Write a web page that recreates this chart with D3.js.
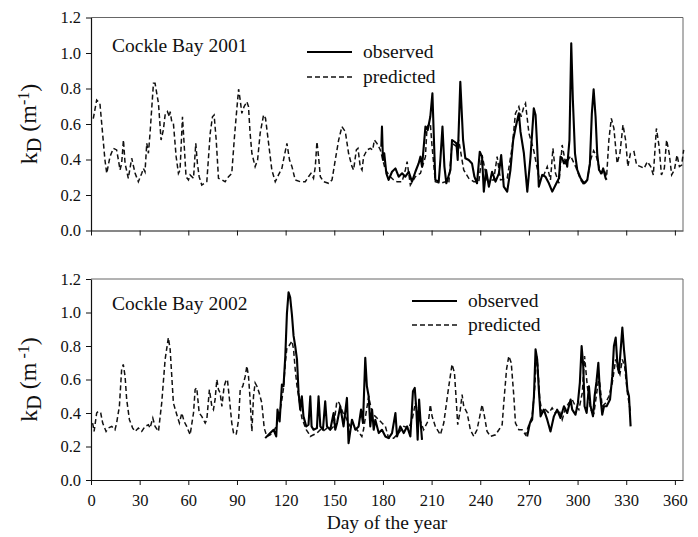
<!DOCTYPE html>
<html><head><meta charset="utf-8">
<script src="https://cdn.jsdelivr.net/npm/d3@7"></script>
<style>body{margin:0;background:#fff}svg{display:block}text{font-family:"Liberation Serif","Times New Roman",serif;fill:#111}</style>
</head><body><svg id="c" width="698" height="537"></svg>
<script>
const xTicks = [0,30,60,90,120,150,180,210,240,270,300,330,360];
const yTicks = [0,0.2,0.4,0.6,0.8,1.0,1.2];
const panelTitles = ["Cockle Bay 2001","Cockle Bay 2002"];
const legendLabels = ["observed","predicted"];

const pred2001 = [[1.4,0.63],[3.5,0.735],[5.5,0.716],[8.6,0.397],[9.7,0.322],[11.7,0.416],[13.8,0.463],[15.8,0.454],[16.9,0.397],[17.9,0.341],[18.9,0.378],[20,0.51],[21,0.378],[23,0.294],[25.1,0.407],[27.2,0.322],[29.2,0.275],[31.3,0.322],[32.3,0.35],[33.3,0.331],[34.4,0.491],[35.4,0.435],[36.4,0.548],[38.5,0.829],[39.5,0.829],[41.6,0.716],[43.2,0.51],[44.6,0.566],[45.7,0.651],[47.1,0.67],[48.4,0.641],[48.8,0.67],[49.8,0.613],[50.8,0.604],[52.5,0.416],[53.9,0.322],[54.9,0.341],[56.4,0.641],[57.4,0.491],[58.6,0.303],[60.1,0.285],[61.1,0.313],[63.2,0.294],[64.6,0.491],[65.6,0.378],[66.7,0.303],[68.3,0.256],[71.4,0.275],[73.5,0.548],[74.9,0.641],[75.9,0.651],[77.2,0.51],[78.6,0.294],[80.7,0.285],[82.7,0.275],[84.8,0.303],[86.8,0.322],[88.3,0.51],[89.5,0.641],[91,0.796],[92,0.735],[93,0.66],[94.4,0.698],[96.1,0.726],[97.1,0.698],[98.1,0.548],[99.2,0.435],[101.2,0.36],[102.7,0.397],[104.3,0.548],[106.4,0.651],[107.6,0.632],[109.5,0.491],[111.5,0.341],[113.6,0.275],[115.6,0.313],[117.7,0.35],[119.1,0.416],[120.8,0.491],[122.4,0.397],[123.9,0.36],[125.9,0.285],[129,0.275],[132.1,0.275],[134.1,0.303],[135.6,0.322],[137.2,0.294],[138.3,0.36],[139.3,0.5],[140.3,0.416],[141.4,0.303],[143.4,0.275],[146.5,0.266],[148.6,0.285],[150.6,0.397],[152.7,0.51],[154.7,0.585],[156.8,0.557],[158.8,0.435],[160.9,0.36],[161.9,0.341],[163.6,0.454],[164.6,0.463],[166,0.36],[167.1,0.341],[168.1,0.416],[170.2,0.454],[172.2,0.463],[173.7,0.454],[174.7,0.51],[176.3,0.491],[178.4,0.454],[181.5,0.341],[184.6,0.303],[186.6,0.285],[188.7,0.275],[191.8,0.275],[193.8,0.341],[194.9,0.388],[196.9,0.256],[200,0.303],[203.1,0.322],[206.2,0.416],[207.2,0.585],[209.2,0.604],[210.3,0.472],[212.3,0.275],[215.4,0.266],[218.5,0.275],[220.6,0.266],[222.6,0.491],[225.7,0.472],[226.7,0.51],[229.8,0.341],[232.9,0.294],[236,0.275],[239.1,0.275],[241.1,0.425],[244.2,0.285],[248.3,0.285],[250.4,0.416],[252.5,0.285],[256.6,0.294],[259.7,0.472],[261.7,0.66],[263.8,0.698],[265.2,0.641],[266.9,0.698],[267.9,0.716],[270,0.548],[273,0.45],[276.1,0.303],[279.2,0.313],[281.3,0.36],[283.3,0.285],[284.8,0.463],[286.4,0.322],[288.5,0.266],[290.5,0.482],[292.6,0.378],[293.6,0.388],[295.7,0.42],[298.8,0.36],[301.9,0.285],[304,0.256],[306,0.285],[308,0.397],[309.9,0.45],[311.5,0.42],[313.2,0.36],[314.2,0.322],[316.3,0.341],[317.9,0.303],[319.3,0.51],[320.8,0.632],[322.4,0.575],[324.4,0.378],[326.1,0.435],[328,0.595],[329.6,0.51],[331,0.36],[332.6,0.435],[334.8,0.444],[336.4,0.369],[338.9,0.36],[341,0.35],[343,0.388],[345.1,0.36],[346.7,0.313],[348.6,0.575],[350.3,0.472],[351.7,0.313],[353.5,0.35],[354.9,0.51],[356.5,0.435],[358,0.313],[359.7,0.341],[361.3,0.425],[362.8,0.36],[364.2,0.369],[365.4,0.454]];

const obs2001 = [[179,0.472],[179.4,0.585],[180,0.397],[180.8,0.435],[182.1,0.322],[183.5,0.285],[185.6,0.331],[187.7,0.35],[189.7,0.303],[191.8,0.322],[193.8,0.303],[195.9,0.331],[197.9,0.275],[200,0.331],[202,0.378],[203.1,0.416],[204.1,0.36],[206.2,0.585],[207.6,0.566],[209.2,0.641],[210.5,0.773],[211.3,0.548],[212.3,0.285],[214.4,0.275],[215.4,0.397],[216.7,0.585],[217.9,0.36],[219.1,0.266],[221.6,0.341],[222.6,0.51],[224.1,0.5],[225.3,0.491],[226.1,0.397],[227.7,0.838],[229.4,0.51],[230.8,0.407],[232.9,0.397],[234.9,0.378],[236.4,0.303],[238,0.266],[239.7,0.444],[241.1,0.416],[242.2,0.219],[243.6,0.341],[245.3,0.247],[247.3,0.331],[249.4,0.275],[251.5,0.322],[252.9,0.425],[254.5,0.247],[256.6,0.219],[258.6,0.341],[260.3,0.51],[261.9,0.585],[263.8,0.66],[264.8,0.557],[266.9,0.435],[269,0.219],[271,0.416],[273,0.688],[274.1,0.651],[275.1,0.472],[276.1,0.247],[278.2,0.313],[280.2,0.303],[282.3,0.266],[284.4,0.219],[286.4,0.256],[288.5,0.294],[289.5,0.416],[290.5,0.407],[291.6,0.378],[293,0.397],[293.6,0.36],[295,0.51],[296.1,1.055],[297.1,0.735],[298.4,0.435],[299.8,0.341],[301.9,0.294],[304,0.266],[306,0.285],[307.6,0.378],[308.8,0.66],[309.9,0.796],[311.1,0.641],[312.1,0.435],[313.2,0.341],[314.8,0.322],[315.8,0.35],[317.3,0.294],[317.9,0.285]];

const pred2002 = [[1,0.34],[1.9,0.29],[3.5,0.40],[4.5,0.41],[6,0.40],[7.2,0.34],[9.3,0.29],[10.7,0.31],[12.8,0.32],[14.8,0.30],[15.8,0.34],[17.5,0.44],[18.9,0.66],[19.9,0.69],[21,0.62],[22,0.48],[23.7,0.36],[25.7,0.31],[27.2,0.29],[29.2,0.31],[31.3,0.29],[33.3,0.32],[35.4,0.33],[36.4,0.31],[38.1,0.37],[39.5,0.32],[41.6,0.29],[43.6,0.46],[45.7,0.72],[47.7,0.85],[48.8,0.78],[50.8,0.46],[52.9,0.39],[54.5,0.34],[56,0.40],[57.4,0.35],[59,0.32],[61.1,0.27],[63.2,0.40],[64.2,0.54],[65.2,0.55],[66.7,0.40],[68.3,0.38],[70.4,0.34],[71.4,0.36],[73,0.54],[74.5,0.44],[75.5,0.42],[76.5,0.48],[77.6,0.60],[78.6,0.54],[79.6,0.52],[80.7,0.44],[82.1,0.56],[83.1,0.59],[84.1,0.60],[85.4,0.48],[86.8,0.34],[87.9,0.28],[89.5,0.27],[91,0.36],[92,0.54],[93.6,0.56],[95.1,0.62],[96.1,0.68],[97.1,0.62],[98.1,0.48],[99.2,0.29],[100.2,0.50],[101.2,0.58],[102.3,0.56],[103.7,0.52],[105.3,0.46],[106.8,0.31],[108.4,0.26],[110.5,0.27],[112.6,0.29],[114.2,0.32],[116.3,0.40],[117.7,0.48],[118.7,0.55],[119.8,0.70],[120.8,0.79],[122,0.80],[123.9,0.83],[124.9,0.78],[125.9,0.66],[127,0.56],[128,0.50],[130,0.37],[132.7,0.30],[134.1,0.28],[135.2,0.26],[137.2,0.27],[139.3,0.28],[141.4,0.30],[143,0.29],[145.5,0.31],[147.5,0.30],[149.6,0.32],[151.6,0.47],[153,0.46],[155.4,0.40],[156.8,0.38],[159.8,0.32],[164,0.30],[167,0.26],[168,0.30],[171.2,0.50],[173.3,0.40],[175.3,0.38],[177.4,0.36],[179.4,0.34],[181.5,0.32],[183.5,0.25],[186.6,0.25],[189.7,0.28],[192.8,0.32],[195.9,0.31],[198,0.36],[200,0.46],[202,0.38],[205.1,0.30],[208.2,0.36],[209.2,0.45],[210.3,0.38],[212.3,0.32],[215.4,0.27],[217.5,0.34],[220.6,0.56],[222.6,0.69],[224.1,0.64],[225.3,0.46],[226.1,0.33],[227.7,0.42],[228.8,0.51],[229.8,0.44],[231.9,0.40],[233.9,0.30],[236,0.26],[238,0.30],[239.7,0.38],[241.1,0.45],[242.6,0.38],[244.2,0.29],[246.3,0.26],[249.4,0.27],[251.5,0.30],[253.5,0.33],[254.5,0.46],[256.2,0.66],[257.6,0.74],[259.1,0.70],[260.7,0.50],[261.7,0.34],[263.8,0.30],[265.8,0.30],[267.9,0.27],[270,0.33],[272,0.38],[273.5,0.54],[274.7,0.74],[275.5,0.68],[276.7,0.48],[278.2,0.40],[280.2,0.42],[282.3,0.40],[284.3,0.43],[286.4,0.40],[288.5,0.42],[290.5,0.36],[292.6,0.43],[294.6,0.46],[296.7,0.48],[298.7,0.44],[300.8,0.42],[302.9,0.52],[304.3,0.74],[306,0.56],[308,0.42],[310.1,0.40],[312.1,0.54],[313.2,0.62],[315.2,0.44],[317.3,0.46],[319.3,0.50],[321.4,0.58],[323.5,0.72],[324.9,0.66],[326.1,0.63],[327.6,0.72],[329,0.68],[330.7,0.52],[331.7,0.46],[332.7,0.40]];

const obs2002 = [[107.4,0.25],[110.5,0.28],[112.6,0.30],[114.2,0.26],[115,0.42],[116.3,0.35],[117.7,0.57],[118.7,0.56],[119.8,0.74],[120.8,0.995],[121.8,1.12],[122.8,1.09],[123.9,0.985],[124.9,0.86],[125.9,0.80],[127,0.72],[128,0.52],[129,0.42],[130,0.50],[131,0.38],[132.7,0.32],[134.1,0.33],[135.2,0.50],[136,0.32],[137.2,0.30],[139.3,0.31],[140.3,0.50],[141.4,0.32],[143,0.30],[144.4,0.47],[145.5,0.32],[147.5,0.30],[149.6,0.40],[150.6,0.30],[151.7,0.34],[153.7,0.44],[155.7,0.32],[157.8,0.49],[158.8,0.22],[160.9,0.36],[163,0.30],[165,0.32],[166.5,0.42],[167.7,0.34],[169.1,0.73],[170.1,0.56],[171.2,0.50],[172.2,0.32],[173.3,0.42],[174.3,0.30],[175.3,0.36],[177.4,0.28],[179.4,0.30],[181.5,0.26],[183.5,0.25],[185.6,0.28],[187.7,0.40],[188.7,0.26],[190.7,0.32],[192.8,0.28],[194.9,0.32],[196.9,0.26],[198.5,0.53],[199.6,0.55],[200.6,0.42],[201.4,0.24],[202.3,0.48],[203.1,0.36],[204.1,0.24],null,[268.9,0.26],[270.6,0.34],[272,0.36],[273.1,0.50],[274.1,0.78],[275.1,0.72],[276.1,0.54],[277.2,0.38],[279.2,0.42],[281.3,0.36],[283.3,0.29],[285.4,0.38],[287.4,0.42],[289.5,0.37],[291.6,0.44],[293.6,0.40],[295.7,0.48],[296.7,0.42],[298.7,0.39],[300.2,0.46],[301.4,0.58],[302.5,0.80],[303.5,0.68],[304.3,0.44],[305.6,0.40],[307,0.56],[308,0.44],[309.5,0.38],[310.5,0.50],[311.7,0.59],[312.8,0.70],[313.8,0.52],[315.2,0.39],[316.3,0.44],[317.9,0.44],[320,0.48],[321.4,0.62],[322.4,0.80],[323.5,0.85],[324.5,0.70],[325.5,0.64],[326.6,0.78],[327.6,0.91],[328.6,0.78],[329.6,0.68],[330.7,0.54],[331.7,0.50],[332.7,0.32]];

const svg = d3.select("#c");
const x = d3.scaleLinear().domain([0,365]).range([91,683]);
const panels = [
  {top:17.5, bottom:230.5, pred:pred2001, obs:obs2001, title:panelTitles[0], labels:false,
   titlePos:[112,52], leg:{x1:307,x2:352,y1:52,y2:77,tx:363}},
  {top:279, bottom:480, pred:pred2002, obs:obs2002, title:panelTitles[1], labels:true,
   titlePos:[112,310], leg:{x1:412,x2:457,y1:301,y2:325,tx:468}}
];

panels.forEach(p => {
  const y = d3.scaleLinear().domain([0,1.2]).range([p.bottom,p.top]);
  const g = svg.append("g");
  g.append("path").attr("d",`M91,${p.top}H683V${p.bottom}`).attr("fill","none").attr("stroke","#666").attr("stroke-width",1);
  const line = d3.line().defined(d=>d!==null).x(d=>x(d[0])).y(d=>y(d[1]));
  g.append("path").datum(p.pred).attr("d",line).attr("fill","none").attr("stroke","#111")
    .attr("stroke-width",1.5).attr("stroke-dasharray","5,3");
  g.append("path").datum(p.obs).attr("d",line).attr("fill","none").attr("stroke","#000")
    .attr("stroke-width",2.1).attr("stroke-linejoin","round");
  const xa = g.append("g").attr("transform",`translate(0,${p.bottom})`)
    .call(d3.axisBottom(x).tickValues(xTicks).tickSize(5).tickSizeOuter(0).tickPadding(6)
      .tickFormat(p.labels ? d3.format("d") : ""));
  const ya = g.append("g").attr("transform",`translate(91,0)`)
    .call(d3.axisLeft(y).tickValues(yTicks).tickSize(5).tickSizeOuter(0).tickPadding(5).tickFormat(d3.format(".1f")));
  [xa,ya].forEach(a=>{
    a.select(".domain").attr("stroke","#111").attr("stroke-width",1.2);
    a.selectAll(".tick line").attr("stroke","#111");
    a.selectAll("text").style("font-family",'"Liberation Serif",serif').style("font-size","16.5px").attr("fill","#111");
  });
  xa.selectAll("text").attr("dy","0.9em");
  g.append("text").attr("x",p.titlePos[0]).attr("y",p.titlePos[1]).style("font-size","19.5px").text(p.title);
  const L = p.leg;
  g.append("line").attr("x1",L.x1).attr("x2",L.x2).attr("y1",L.y1).attr("y2",L.y1).attr("stroke","#000").attr("stroke-width",2);
  g.append("line").attr("x1",L.x1).attr("x2",L.x2).attr("y1",L.y2).attr("y2",L.y2).attr("stroke","#111").attr("stroke-width",1.5).attr("stroke-dasharray","5,3");
  g.append("text").attr("x",L.tx).attr("y",L.y1+6).style("font-size","19.5px").text(legendLabels[0]);
  g.append("text").attr("x",L.tx).attr("y",L.y2+6).style("font-size","19.5px").text(legendLabels[1]);
  const cy = (p.top+p.bottom)/2;
  const yl = g.append("text").attr("transform",`translate(37,${cy}) rotate(-90)`).attr("text-anchor","middle").style("font-size","24px");
  yl.append("tspan").text("k");
  yl.append("tspan").attr("dy","0.22em").style("font-size","20px").text("D");
  yl.append("tspan").attr("dy","-0.22em").text(" (m");
  yl.append("tspan").attr("dy","-0.45em").style("font-size","16px").text(p.labels ? " -1" : "-1");
  yl.append("tspan").attr("dy","0.35em").text(")");
});

svg.append("text").attr("x",387).attr("y",529).attr("text-anchor","middle").style("font-size","19.5px").text("Day of the year");
</script></body></html>
